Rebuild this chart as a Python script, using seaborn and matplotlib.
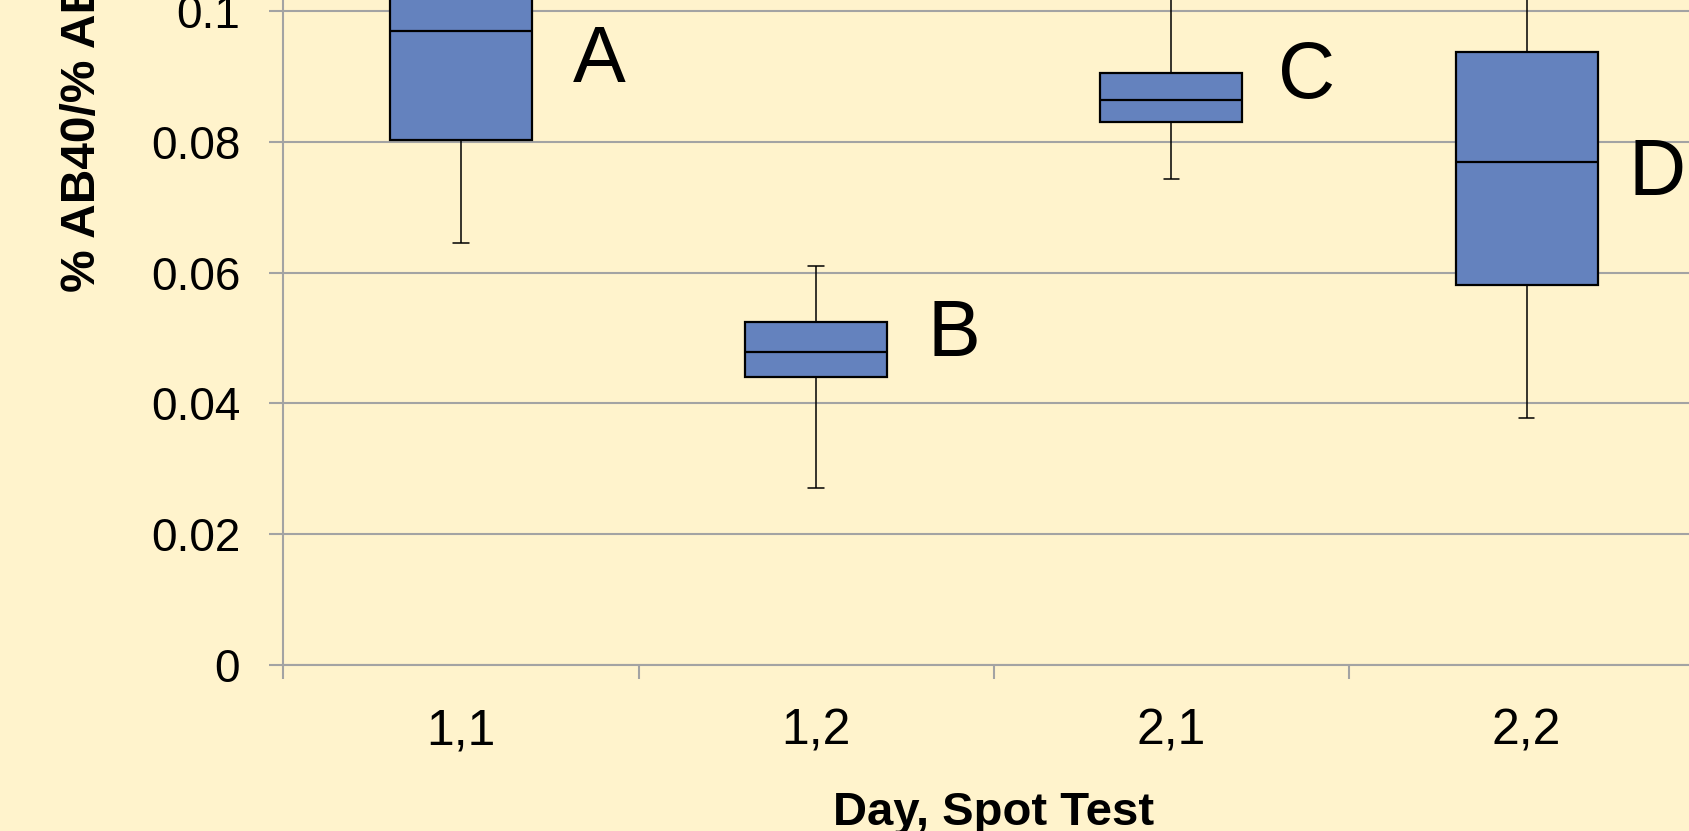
import matplotlib
matplotlib.use("Agg")
from matplotlib import pyplot as plt
import seaborn as sns
import pandas as pd

# five-number summaries (upper parts of A, C, D are cropped in the original)
groups = ["1,1", "1,2", "2,1", "2,2"]
lower = [0.0645, 0.0270, 0.0744, 0.0378]
q1 = [0.0803, 0.0440, 0.0830, 0.0581]
median = [0.0970, 0.0478, 0.0864, 0.0769]
q3 = [0.1100, 0.0524, 0.0905, 0.0938]
upper = [0.1250, 0.0610, 0.1070, 0.1120]

letters = ["A", "B", "C", "D"]
letter_y = [0.0892, 0.0473, 0.0867, 0.0719]
letter_dx = [0.315, 0.312, 0.300, 0.288]

y_ticks = [0, 0.02, 0.04, 0.06, 0.08, 0.1]
y_labels = ["0", "0.02", "0.04", "0.06", "0.08", "0.1"]

bg = "#FFF3CC"
box_color = "#6482BE"
grid_color = "#A3A3A3"

rows = []
for g, a, b, c, d, e in zip(groups, lower, q1, median, q3, upper):
    for v in (a, b, c, d, e):
        rows.append({"group": g, "value": v})
df = pd.DataFrame(rows)

sns.set_theme(style="whitegrid")
plt.rcParams["font.family"] = ["Liberation Sans", "DejaVu Sans"]

fig = plt.figure(figsize=(16.89, 8.31), dpi=100, facecolor=bg)
# axes deliberately run past the figure edge to reproduce the cropped original
ax = fig.add_axes([283.3 / 1689, (831 - 664.5) / 831, 1421 / 1689, 783.8 / 831])
ax.set_facecolor(bg)

sns.boxplot(data=df, x="group", y="value", order=groups, width=0.4, whis=(0, 100),
            color=box_color, saturation=1, linecolor="black", linewidth=1.6,
            whiskerprops={"linewidth": 1.1}, capprops={"linewidth": 1.1}, ax=ax)

# shorten the whisker caps
for line in ax.lines:
    xs, ys = line.get_xdata(), line.get_ydata()
    if len(xs) == 2 and ys[0] == ys[1] and abs(xs[1] - xs[0]) < 0.3:
        c = (xs[0] + xs[1]) / 2
        line.set_xdata([c - 0.022, c + 0.022])

for i, (t, y) in enumerate(zip(letters, letter_y)):
    ax.text(i + letter_dx[i], y, t, fontsize=57, ha="left", va="baseline", color="black")

ax.set_xlim(-0.5, 3.5)
ax.set_ylim(0, 0.12)
ax.set_yticks(y_ticks)
ax.set_yticklabels(y_labels)
ax.set_xticks(range(len(groups)))
ax.set_xticklabels(groups)
ax.set_xticks([i - 0.5 for i in range(len(groups) + 1)], minor=True)

ax.tick_params(axis="y", which="major", length=10, width=1.5, color=grid_color,
               labelsize=33, pad=21, left=True, labelcolor="black")
ax.tick_params(axis="x", which="major", length=0, labelsize=36, pad=32, labelcolor="black")
ax.tick_params(axis="x", which="minor", length=10, width=1.5, color=grid_color, bottom=True)

ax.xaxis.grid(False)
ax.yaxis.grid(True, color=grid_color, linewidth=1.5)
ax.set_axisbelow(True)
for s in ["top", "right"]:
    ax.spines[s].set_visible(False)
for s in ["left", "bottom"]:
    ax.spines[s].set_visible(True)
    ax.spines[s].set_color(grid_color)
    ax.spines[s].set_linewidth(1.5)

ax.set_xlabel("Day, Spot Test", fontsize=34, fontweight="bold", labelpad=26, color="black")
ax.set_ylabel("% AB40/% AB42", fontsize=34.5, fontweight="bold", color="black")
ax.yaxis.set_label_coords(-0.1322, (664.5 - 292) / 783.8)
ax.yaxis.label.set_ha("left")
ax.yaxis.label.set_va("baseline")

plt.savefig("out.png", dpi=100, facecolor=bg)
plt.close()
